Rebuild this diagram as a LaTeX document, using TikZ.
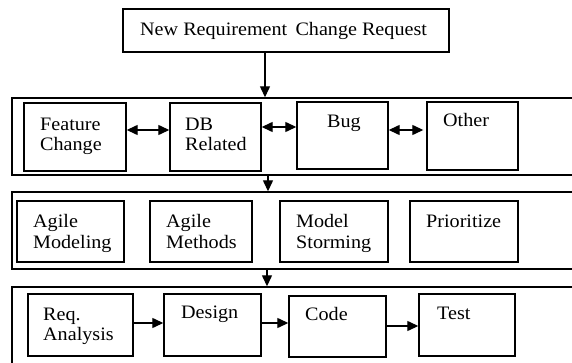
\documentclass[tikz,border=0pt]{standalone}
\usepackage{fontspec}
\setmainfont[FakeStretch=1.06]{Liberation Serif}
\usetikzlibrary{arrows.meta}
\begin{document}
\begin{tikzpicture}[x=1pt,y=-1pt,
  box/.style={draw,line width=1.4pt,inner sep=0pt,rectangle},
  txt/.style={inner sep=0pt,anchor=base west,align=left,font=\fontsize{19}{20.7}\selectfont},
  arr/.style={line width=1.3pt,-{Triangle[length=11pt,width=10pt]}},
  dbl/.style={line width=1.3pt,{Triangle[length=11pt,width=10pt]}-{Triangle[length=11pt,width=10pt]}}]
\useasboundingbox (0,0) rectangle (572,363);
% top
\node[box,minimum width=326pt,minimum height=43pt] (top) at (286,30.5) {};
\node[txt] (topt) at (140,36) {New Requirement\, Change Request};
% outer boxes
\node[box,minimum width=568pt,minimum height=77pt] (o1) at (296,136.5) {};
\node[box,minimum width=568pt,minimum height=77pt] (o2) at (296,230.5) {};
\node[box,minimum width=568pt,minimum height=78pt] (o3) at (296,326) {};
% row 1
\node[box,minimum width=102pt,minimum height=68pt] (fc) at (75,137) {};
\node[box,minimum width=91pt,minimum height=68pt] (db) at (215.5,137) {};
\node[box,minimum width=91pt,minimum height=67pt] (bug) at (342.5,135.5) {};
\node[box,minimum width=91pt,minimum height=68pt] (oth) at (472.5,136) {};
\node[txt] (fct) at (40,151) {Feature\\Change};
\node[txt] (dbt) at (185,151) {DB\\Related};
\node[txt] (bugt) at (327,128) {Bug};
\node[txt] (otht) at (443,127) {Other};
% row 2
\node[box,minimum width=107pt,minimum height=61pt] (am) at (70.5,231.5) {};
\node[box,minimum width=102pt,minimum height=61pt] (amt) at (201,231.5) {};
\node[box,minimum width=108pt,minimum height=61pt] (ms) at (334,231.5) {};
\node[box,minimum width=108pt,minimum height=61pt] (pr) at (464,231.5) {};
\node[txt] (amtx) at (33,248.5) {Agile\\Modeling};
\node[txt] (amttx) at (166,248.5) {Agile\\Methods};
\node[txt] (mstx) at (296,248.5) {Model\\Storming};
\node[txt] (prtx) at (426,227) {Prioritize};
% row 3
\node[box,minimum width=105pt,minimum height=62pt] (ra) at (80.5,325) {};
\node[box,minimum width=97pt,minimum height=62pt] (de) at (212.5,325) {};
\node[box,minimum width=97pt,minimum height=61pt] (co) at (337.5,326.5) {};
\node[box,minimum width=96pt,minimum height=62pt] (te) at (467,325) {};
\node[txt] (ratx) at (43,340.7) {Req.\\Analysis};
\node[txt] (detx) at (181,318) {Design};
\node[txt] (cotx) at (305,320) {Code};
\node[txt] (tetx) at (437,319) {Test};
% vertical arrows
\coordinate (v1) at (265,0);
\coordinate (v2) at (268,0);
\coordinate (v3) at (267,0);
\draw[arr] (top.south -| v1) -- (o1.north -| v1);
\draw[arr] (o1.south -| v2) -- (o2.north -| v2);
\draw[arr] (o2.south -| v3) -- (o3.north -| v3);
% horizontal arrows
\coordinate (h1) at (0,130);
\coordinate (h2) at (0,127);
\coordinate (h3) at (0,130);
\coordinate (h4) at (0,323);
\coordinate (h5) at (0,326);
\draw[dbl] (fc.east |- h1) -- (db.west |- h1);
\draw[dbl] (db.east |- h2) -- (bug.west |- h2);
\draw[dbl] (bug.east |- h3) -- ([xshift=-3pt]oth.west |- h3);
\draw[arr] (ra.east |- h4) -- (de.west |- h4);
\draw[arr] (de.east |- h4) -- (co.west |- h4);
\draw[arr] (co.east |- h5) -- (te.west |- h5);
\end{tikzpicture}
\end{document}
